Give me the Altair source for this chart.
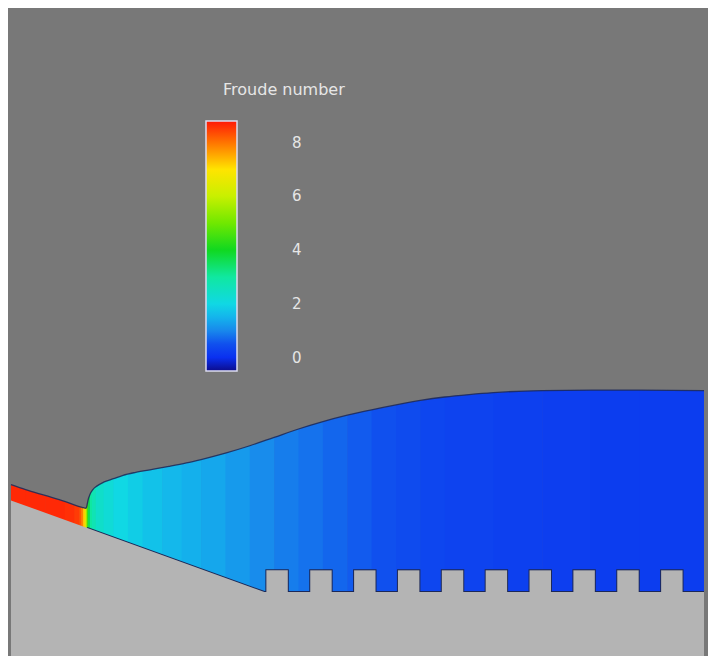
import altair as alt
import pandas as pd

# ---------------- data (x in picture px, elevation = 666 - y px) ----
# free surface profile
surf_x = [5, 20, 40, 60, 78, 82, 83, 84, 86, 89, 93, 100, 110, 120, 133, 150, 167, 185,
          200, 225, 250, 275, 300, 325, 350, 375, 400, 425, 450, 475, 500, 550, 600, 650, 716]
surf_e = [174, 169, 163, 157, 151, 150, 153, 158, 164, 169, 172.5, 176.5, 180, 183.5, 186.5,
          189.5, 192.5, 196, 199.5, 206, 213.5, 222, 230.5, 238, 244.5, 250, 255, 259.5, 263,
          265.5, 267.5, 269.5, 270, 270, 269.5]

# Froude number sampled along the channel (vertical bands)
fr_x = [5, 20, 40, 60, 70, 75, 77, 79, 81, 82, 83, 84, 86, 88, 92, 100, 110, 125, 140, 160,
        180, 200, 225, 250, 275, 300, 325, 350, 375, 400, 425, 450, 500, 550, 600, 650]
fr_v = [8.65, 8.65, 8.65, 8.6, 8.5, 8.3, 7.9, 7.2, 6.4, 5.5, 4.5, 3.6, 3.0, 2.7, 2.4, 2.2, 2.0,
        1.85, 1.7, 1.55, 1.45, 1.35, 1.2, 1.05, 0.9, 0.8, 0.7, 0.6, 0.5, 0.42, 0.35, 0.3, 0.25,
        0.22, 0.2, 0.2]
x_end = 716

# spillway chute and basin floor
ground_x = [5, 265, 716]
ground_e = [158, 65, 65]
bottom_e = 0
top_e = 658

# baffle blocks
block_start = [267, 312, 357, 402, 447, 492, 537, 582, 627, 672]
block_width = 22
block_top = 87
block_base = 65

# colour bar
cbar_domain = [-0.5, 0.0, 0.5, 1.0, 1.5, 2.0, 3.0, 4.0, 5.0, 6.0, 7.0, 8.0, 8.8]
cbar_colors = ["#0c0c8c", "#0a30f0", "#1050ee", "#1888ec", "#14b4ec", "#10d8e4", "#10e8a0",
               "#10d820", "#70e800", "#c8f000", "#ffe400", "#ff7400", "#ff1808"]
cbar_ticks = [0, 2, 4, 6, 8]
title_text = "Froude number"
title_pos = (285, 575)

W, H = 700, 648
BG = "#787878"
GROUND = "#b4b4b4"
EDGE = "#1c2858"

# ---------------- tables ----------------
strips = pd.DataFrame({
    "x": fr_x,
    "x2": [v + 0.6 for v in fr_x[1:]] + [x_end],
    "Froude": fr_v,
})
surface = pd.DataFrame({"x": surf_x, "e": surf_e})
ground = pd.DataFrame({"x": ground_x, "e": ground_e})
wet_line = pd.DataFrame({"x": [83] + ground_x[1:],
                         "e": [ground_e[0] + (ground_e[1] - ground_e[0]) * (83 - 5) / (265 - 5)] + ground_e[1:]})
blocks = pd.DataFrame({"x": block_start,
                       "x2": [b + block_width for b in block_start],
                       "top": [block_top] * len(block_start),
                       "base": [block_base] * len(block_start)})
title_df = pd.DataFrame({"x": [title_pos[0]], "e": [title_pos[1]], "t": [title_text]})

xs = alt.Scale(domain=[5, 716], nice=False, zero=False)
ys = alt.Scale(domain=[0, 658], nice=False, zero=False)
cs = alt.Scale(domain=cbar_domain, range=cbar_colors, interpolate="rgb")

water = alt.Chart(strips).mark_rect().encode(
    x=alt.X("x:Q", scale=xs, axis=None),
    x2="x2:Q",
    y=alt.value(0),
    y2=alt.value(H),
    color=alt.Color("Froude:Q", scale=cs,
                    legend=alt.Legend(title=None, orient="none", direction="vertical",
                                      type="gradient",
                                      legendX=195, legendY=113, gradientLength=250,
                                      gradientThickness=31, values=cbar_ticks,
                                      labelOffset=55, labelFontSize=15, labelColor="#e6e6e6",
                                      labelFont="DejaVu Sans", padding=0,
                                      gradientStrokeColor="#dcdcf0", gradientStrokeWidth=1.5)),
)

air = alt.Chart(surface).mark_area(color=BG, interpolate="monotone").encode(
    x=alt.X("x:Q", scale=xs, axis=None),
    y=alt.Y("e:Q", scale=ys, axis=None),
    y2=alt.datum(top_e),
)

surf_line = alt.Chart(surface).mark_line(color=EDGE, strokeWidth=1.3, interpolate="monotone",
                                         opacity=0.85).encode(
    x=alt.X("x:Q", scale=xs, axis=None),
    y=alt.Y("e:Q", scale=ys, axis=None),
)

bed_line = alt.Chart(wet_line).mark_line(color=EDGE, strokeWidth=2).encode(
    x=alt.X("x:Q", scale=xs, axis=None),
    y=alt.Y("e:Q", scale=ys, axis=None),
)

blocks_edge = alt.Chart(blocks).mark_rect(fill=GROUND, stroke=EDGE, strokeWidth=2).encode(
    x=alt.X("x:Q", scale=xs, axis=None),
    x2="x2:Q",
    y=alt.Y("top:Q", scale=ys, axis=None),
    y2="base:Q",
)

ground_area = alt.Chart(ground).mark_area(color=GROUND).encode(
    x=alt.X("x:Q", scale=xs, axis=None),
    y=alt.Y("e:Q", scale=ys, axis=None),
    y2=alt.datum(bottom_e),
)

blocks_fill = alt.Chart(blocks).mark_rect(fill=GROUND).encode(
    x=alt.X("x:Q", scale=xs, axis=None),
    x2="x2:Q",
    y=alt.Y("top:Q", scale=ys, axis=None),
    y2="base:Q",
)

title = alt.Chart(title_df).mark_text(color="#e6e6e6", fontSize=16, font="DejaVu Sans",
                                      align="center", baseline="middle").encode(
    x=alt.X("x:Q", scale=xs, axis=None),
    y=alt.Y("e:Q", scale=ys, axis=None),
    text="t:N",
)

chart = alt.layer(water, air, surf_line, bed_line, blocks_edge, ground_area, blocks_fill, title).properties(
    width=W, height=H, background=BG, padding=0,
    autosize=alt.AutoSizeParams(type="fit", contains="padding"),
).configure_view(stroke=None, fill=BG)

chart.save("out.html", embed_options={"renderer": "svg", "actions": False})
